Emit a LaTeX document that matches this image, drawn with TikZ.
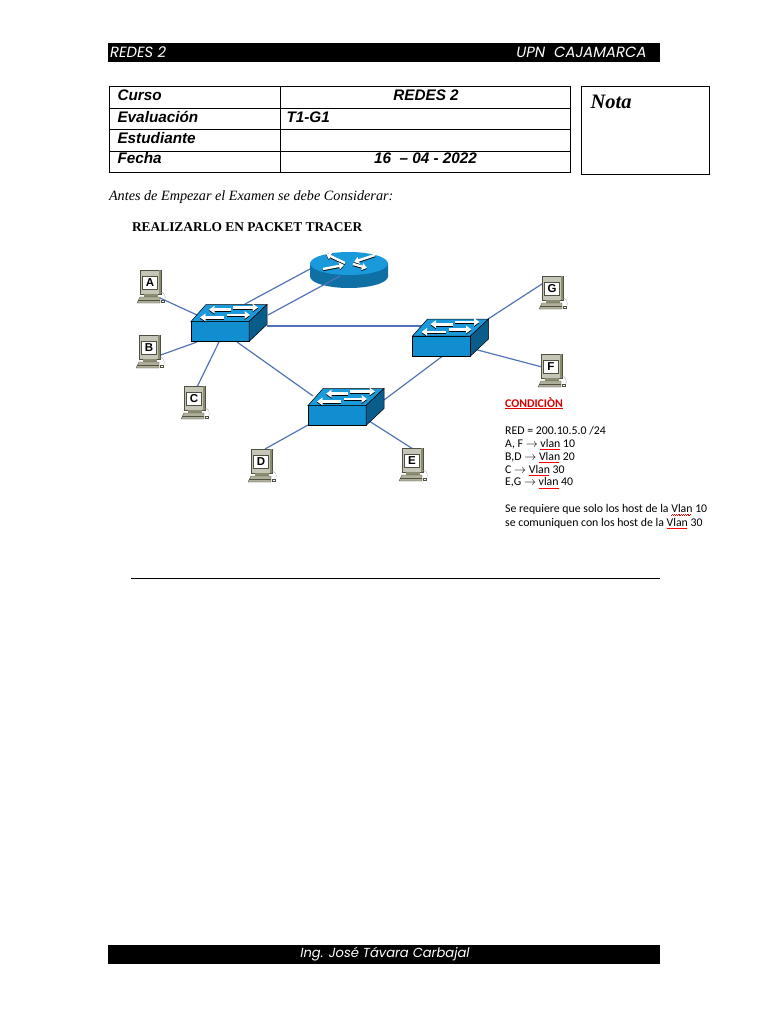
\documentclass[tikz,border=0pt]{standalone}
\usepackage{fontspec}
\setmainfont{Liberation Serif}
\newfontfamily\arialfam{Liberation Sans}
\newfontfamily\headfam{Poppins}
\newfontfamily\califam{Carlito}
\usetikzlibrary{arrows.meta, backgrounds}
\definecolor{swfront}{RGB}{16, 142, 208}
\definecolor{swtop}{RGB}{26, 154, 219}
\definecolor{swside}{RGB}{10, 92, 138}
\definecolor{rtside}{RGB}{14, 112, 165}
\definecolor{linkblue}{RGB}{82, 116, 182}
\definecolor{pcgrey}{RGB}{140, 140, 114}
\definecolor{pcdark}{RGB}{80, 80, 64}
\newcommand{\redwave}[1]{{\setbox0\hbox{#1}\rlap{\raisebox{-2.6pt}{\hbox to \wd0{\color{red}\leaders\hbox{\rule{0.9pt}{0.45pt}\rule[0.45pt]{0.9pt}{0.45pt}}\hfill}}}\box0}}
\newcommand{\redline}[1]{{\setbox0\hbox{#1}\rlap{\rule[-1.6pt]{\wd0}{0.8pt}}\box0}}
\tikzset{
	cellhead/.style={anchor=base west, font=\arialfam\bfseries\itshape\fontsize{15.3}{17}\selectfont},
	cellmid/.style={anchor=base, font=\arialfam\bfseries\itshape\fontsize{15.3}{17}\selectfont},
	barlabel/.style={text=white, font=\headfam\itshape\fontsize{14.8}{17}\selectfont},
	swbox/.style={draw=black, line width=0.5pt, fill=swfront, minimum width=58pt, minimum height=20pt, inner sep=0pt},
	pclabel/.style={draw=pcdark, line width=0.7pt, fill=white, minimum width=15pt, minimum height=13pt, inner sep=0pt, font=\arialfam\bfseries\fontsize{11.5}{12}\selectfont},
	link/.style={linkblue, line width=1.2pt},
	pics/swtopface/.style={code={
		\draw[line width=0.5pt, fill=swtop] (-29,-10)--(-14,-27)--(47,-27)--(29,-10)--cycle;
		\draw[line width=0.5pt, fill=swside] (29,-10)--(47,-27)--(47,-7)--(29,10)--cycle;
		\foreach \ax/\ay/\bx/\by in {11/-21.8/-11/-21.8, 13/-24/38/-24, 4/-14/-20/-14, 7/-16.5/30/-16.5}{
			\draw[black, line width=2.8pt, -{Triangle[width=7.5pt,length=5.5pt]}] (\ax,\ay+1)--(\bx,\by+1);
			\draw[white, line width=2.8pt, -{Triangle[width=7.5pt,length=5.5pt]}] (\ax,\ay)--(\bx,\by);
		}
	}},
	pics/pcbody/.style={code={
		\draw[pcdark, line width=0.4pt, fill=pcgrey!50!white] (-9.5,-13) rectangle (11,11);
		\fill[pcgrey] (8.5,-13) rectangle (11,11);
		\fill[pcgrey] (-6,11) rectangle (8,14);
		\draw[pcdark, line width=0.3pt, fill=pcgrey!70!white] (-10,14)--(10,14)--(10,20)--(-13,20)--cycle;
		\draw[pcdark, line width=0.3pt] (-12,17)--(10,17);
		\draw[black!40, line width=0.3pt] (10,9) .. controls (14,9) and (16,12) .. (15,17);
		\fill[pcdark] (11,17) rectangle (14.5,20);
		\fill[white] (12,18) rectangle (13.5,19);
	}}
}
\begin{document}
\begin{tikzpicture}[x=1pt, y=-1pt]
	\useasboundingbox (0,0) rectangle (768,1024);
	% header and footer bars
	\fill[black] (108,43) rectangle (660,62);
	\fill[black] (108,945) rectangle (660,964);
	\node[barlabel, anchor=west] (hdleft) at (106.5,52) {REDES 2};
	\node[barlabel, anchor=east] (hdright) at (650,52) {UPN\ \ CAJAMARCA};
	\node[barlabel, font=\headfam\itshape\fontsize{13.1}{16}\selectfont] (footer) at (385,954) {Ing. José Távara Carbajal};
	% table
	\draw[line width=0.9pt] (109,86) rectangle (570,172);
	\foreach \y in {108,129,151}{\draw[line width=0.9pt] (109,\y)--(570,\y);}
	\draw[line width=0.9pt] (280,86)--(280,172);
	\node[cellhead] (curso) at (114,101) {Curso};
	\node[cellhead] (evalua) at (114,123) {Evaluación};
	\node[cellhead] (estud) at (114,144) {Estudiante};
	\node[cellhead] (fecha) at (114,164) {Fecha};
	\node[cellmid] (redes) at (426,101) {REDES 2};
	\node[cellhead] (tipo) at (283,123) {T1-G1};
	\node[cellmid] (dia) at (425.5,164) {16\ \ – 04 - 2022};
	\draw[line width=0.9pt] (581,86) rectangle (709,174);
	\node[anchor=west, font=\bfseries\itshape\fontsize{20.5}{24}\selectfont] (nota) at (587,102) {Nota};
	\node[anchor=west, font=\itshape\fontsize{14.2}{16}\selectfont] (antes) at (105.5,197) {Antes de Empezar el Examen se debe Considerar:};
	\node[anchor=west, font=\bfseries\fontsize{13.4}{16}\selectfont] (packet) at (128.5,227) {REALIZARLO EN PACKET TRACER};
	% router
	\fill[rtside] (310,263.5) -- (310,276.5) arc[start angle=180, end angle=0, x radius=39, y radius=11.5] -- (388,263.5) -- cycle;
	\fill[swtop] (349,263.5) ellipse[x radius=39, y radius=11.5];
	\node[minimum size=4pt, inner sep=0pt] (router) at (349,270) {};
	\foreach \ax/\ay/\bx/\by in {345/263/326/254, 375/255/354/262, 323/269/344/265, 353/264/367/268}{
		\draw[black, line width=2.4pt, -{Triangle[width=7pt,length=5pt]}] (\ax,\ay+0.9)--(\bx,\by+0.9);
		\draw[white, line width=2.4pt, -{Triangle[width=7pt,length=5pt]}] (\ax,\ay)--(\bx,\by);
	}
	% switches
	\foreach \name/\x/\y in {swA/220/331.5, swB/337/415.5, swC/441.5/346}{
		\node[swbox] (\name) at (\x,\y) {};
		\pic at (\x,\y) {swtopface};
	}
	% hosts
	\foreach \name/\x/\y in {A/150/283, B/149/348, C/194/399, D/261/462, E/412/461, G/552/289, F/551/367}{
		\pic at (\x,\y) {pcbody};
		\node[pclabel] (pc\name) at (\x,\y) {\name};
	}
	% links
	\begin{scope}[on background layer]
		\draw[link] ([shift={(10,15)}]pcA.center)--([shift={(-23,-16.5)}]swA.center);
		\draw[link] ([shift={(9,8)}]pcB.center)--([shift={(-23,10.5)}]swA.center);
		\draw[link] ([shift={(3,-12)}]pcC.center)--([shift={(-1,10.5)}]swA.center);
		\draw[link] ([shift={(4,-13)}]pcD.center)--([shift={(-29,9.5)}]swB.center);
		\draw[link] ([shift={(1,-12)}]pcE.center)--([shift={(29,3.5)}]swB.center);
		\draw[link] ([shift={(-7,-7)}]pcG.center)--([shift={(46.5,-27)}]swC.center);
		\draw[link] ([shift={(-9,0)}]pcF.center)--([shift={(28.5,2)}]swC.center);
		\draw[link] ([shift={(47,-5.5)}]swA.center)--([shift={(-19.5,-20)}]swC.center);
		\draw[link] ([shift={(17,10.5)}]swA.center)--([shift={(-24,-19.5)}]swB.center);
		\draw[link] ([shift={(47,-15.5)}]swB.center)--([shift={(2.5,9)}]swC.center);
		\draw[link] ([shift={(25,-27.5)}]swA.center)--([shift={(-39,-1)}]router.center);
	\end{scope}
	\draw[link] ([shift={(48,-16.5)}]swA.center)--([shift={(-9,6)}]router.center);
	% condition text
	\node[anchor=west, inner sep=0pt, text=red!85!black, font=\califam\bfseries\fontsize{11.8}{14}\selectfont] (cond) at (505,403) {\redline{CONDICIÒN}};
	\node[anchor=north west, inner sep=0pt, align=left, font=\califam\fontsize{11.8}{12.9}\selectfont] (vlans) at (505,426) {RED = 200.10.5.0 /24\\
		A, F $\rightarrow$ \redwave{vlan} 10\\
		B,D $\rightarrow$ \redwave{Vlan} 20\\
		C $\rightarrow$ \redwave{Vlan} 30\\
		E,G $\rightarrow$ \redwave{vlan} 40};
	\node[anchor=north west, inner sep=0pt, align=left, font=\califam\fontsize{11.8}{13.7}\selectfont] (requiere) at (505,504) {Se requiere que solo los host de la \redwave{Vlan} 10\\
		se comuniquen con los host de la \redwave{Vlan} 30};
	% closing rule
	\draw[line width=0.8pt] (131,578)--(660,578);
\end{tikzpicture}
\end{document}
